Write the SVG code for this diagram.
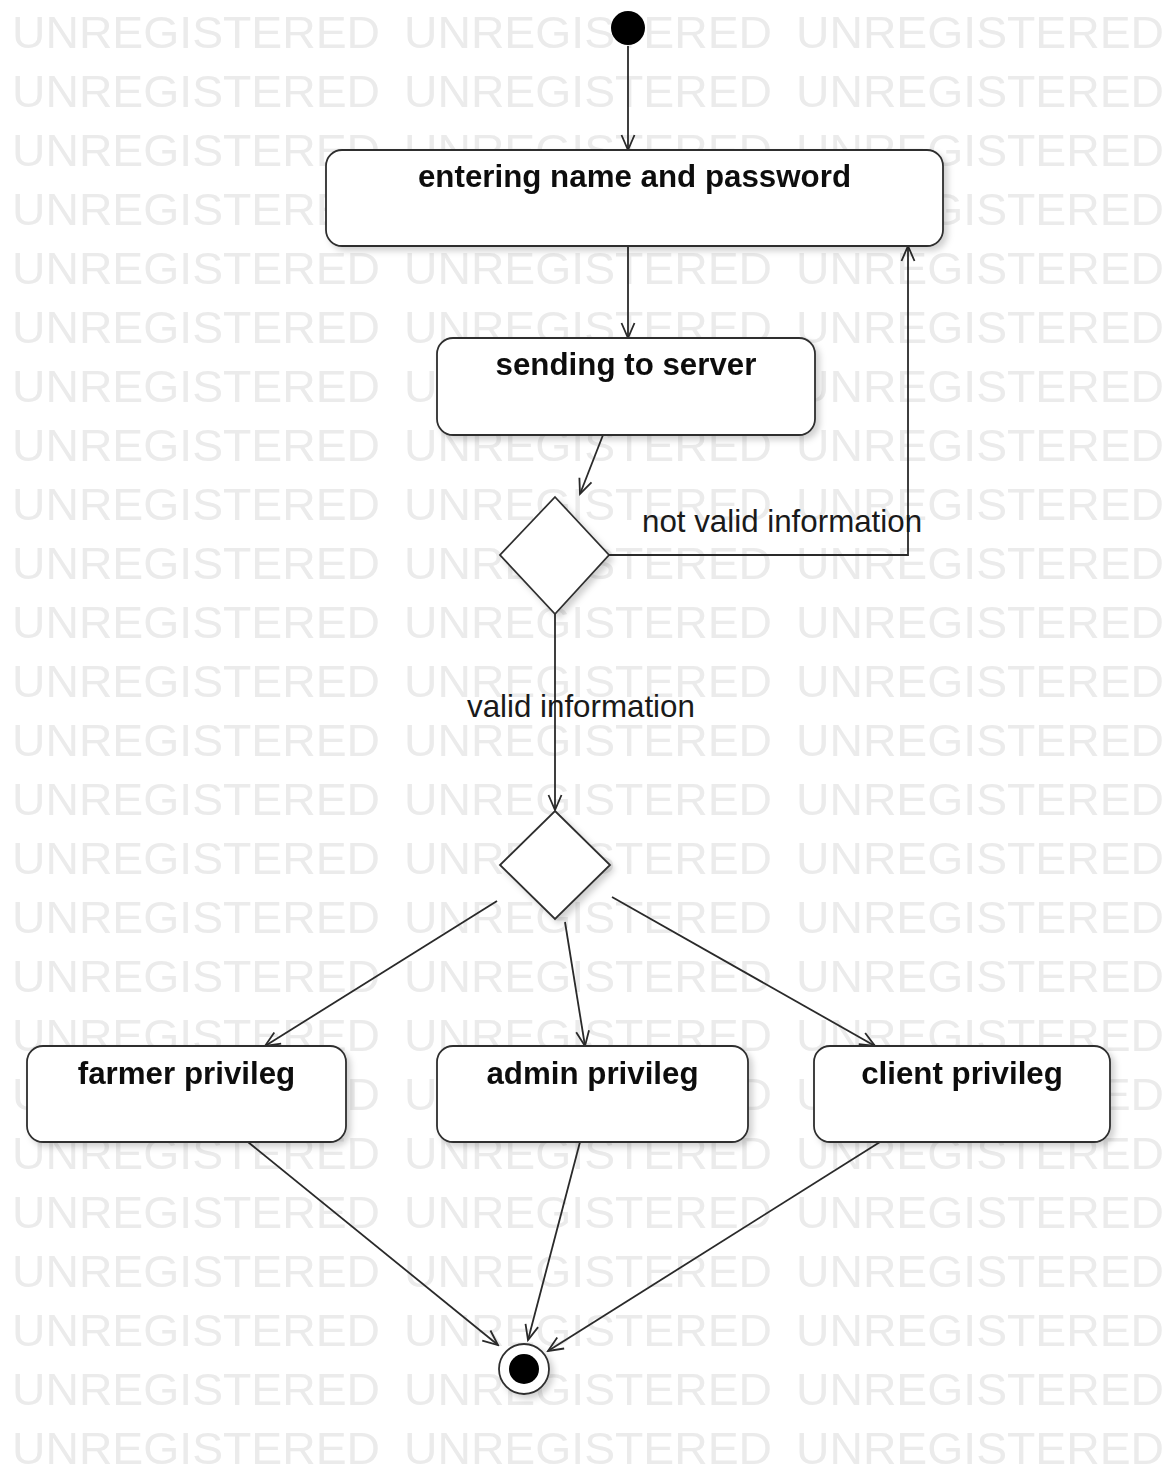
<svg xmlns="http://www.w3.org/2000/svg" width="1170" height="1465" viewBox="0 0 1170 1465">
<style>
.wm{font-family:"Liberation Sans",Arial,sans-serif;font-size:44px;fill:#ebebeb}
.box{fill:#fff;stroke:#2f2f2f;stroke-width:1.8}
.lbl{font-family:"Liberation Sans",Arial,sans-serif;font-size:31.3px;font-weight:bold;fill:#111;text-anchor:middle}
.elbl{font-family:"Liberation Sans",Arial,sans-serif;font-size:31.3px;fill:#1a1a1a}
.edge{fill:none;stroke:#2a2a2a;stroke-width:1.8;marker-end:url(#arr)}
</style>
<defs>
<pattern id="wmp" patternUnits="userSpaceOnUse" x="12" y="0" width="392" height="59">
<text class="wm" x="0" y="48" textLength="368" lengthAdjust="spacingAndGlyphs">UNREGISTERED</text>
</pattern>
<filter id="sh" x="-10%" y="-10%" width="130%" height="140%">
<feDropShadow dx="4" dy="4" stdDeviation="3" flood-color="#000" flood-opacity="0.18"/>
</filter>
<marker id="arr" markerUnits="userSpaceOnUse" viewBox="-16 -8 18 16" refX="0" refY="0" markerWidth="18" markerHeight="16" orient="auto">
<path d="M-15,-6.5 L0,0 L-15,6.5" fill="none" stroke="#2a2a2a" stroke-width="1.8"/>
</marker>
</defs>
<rect width="1170" height="1465" fill="#fff"/>
<rect width="1170" height="1465" fill="url(#wmp)"/>

<g id="connectors">
<path class="edge" d="M628,46 L628,150"/>
<path class="edge" d="M628,246 L628,338"/>
<path class="edge" d="M603,435 L580,494"/>
<path class="edge" d="M609,555 L908,555 L908,246"/>
<path class="edge" d="M555,614 L555,810"/>
<path class="edge" d="M497,901 L265,1046"/>
<path class="edge" d="M565,922 L585,1046"/>
<path class="edge" d="M612,897 L875,1046"/>
<path class="edge" d="M248,1142 L498,1345"/>
<path class="edge" d="M580,1142 L528,1340"/>
<path class="edge" d="M880,1142 L548,1351"/>
<text class="elbl" x="642" y="532">not valid information</text>
<text class="elbl" x="467" y="717">valid information</text>
</g>

<g id="start">
<circle cx="628" cy="28" r="17" fill="#000"/>
</g>

<g id="entering" filter="url(#sh)">
<rect class="box" x="326" y="150" width="617" height="96" rx="16"/>
<text class="lbl" x="634.5" y="187">entering name and password</text>
</g>

<g id="sending" filter="url(#sh)">
<rect class="box" x="437" y="338" width="378" height="97" rx="16"/>
<text class="lbl" x="626" y="375">sending to server</text>
</g>

<g id="decision1" filter="url(#sh)">
<polygon class="box" points="555,497 609,555 555,614 500,555"/>
</g>

<g id="decision2" filter="url(#sh)">
<polygon class="box" points="555,811 610,865 555,919 500,865"/>
</g>

<g id="farmer" filter="url(#sh)">
<rect class="box" x="27" y="1046" width="319" height="96" rx="16"/>
<text class="lbl" x="186.5" y="1084">farmer privileg</text>
</g>

<g id="admin" filter="url(#sh)">
<rect class="box" x="437" y="1046" width="311" height="96" rx="16"/>
<text class="lbl" x="592.5" y="1084">admin privileg</text>
</g>

<g id="client" filter="url(#sh)">
<rect class="box" x="814" y="1046" width="296" height="96" rx="16"/>
<text class="lbl" x="962" y="1084">client privileg</text>
</g>

<g id="end" filter="url(#sh)">
<circle cx="524" cy="1369" r="25" fill="#fff" stroke="#2f2f2f" stroke-width="1.8"/>
<circle cx="524" cy="1369" r="15" fill="#000"/>
</g>
</svg>
